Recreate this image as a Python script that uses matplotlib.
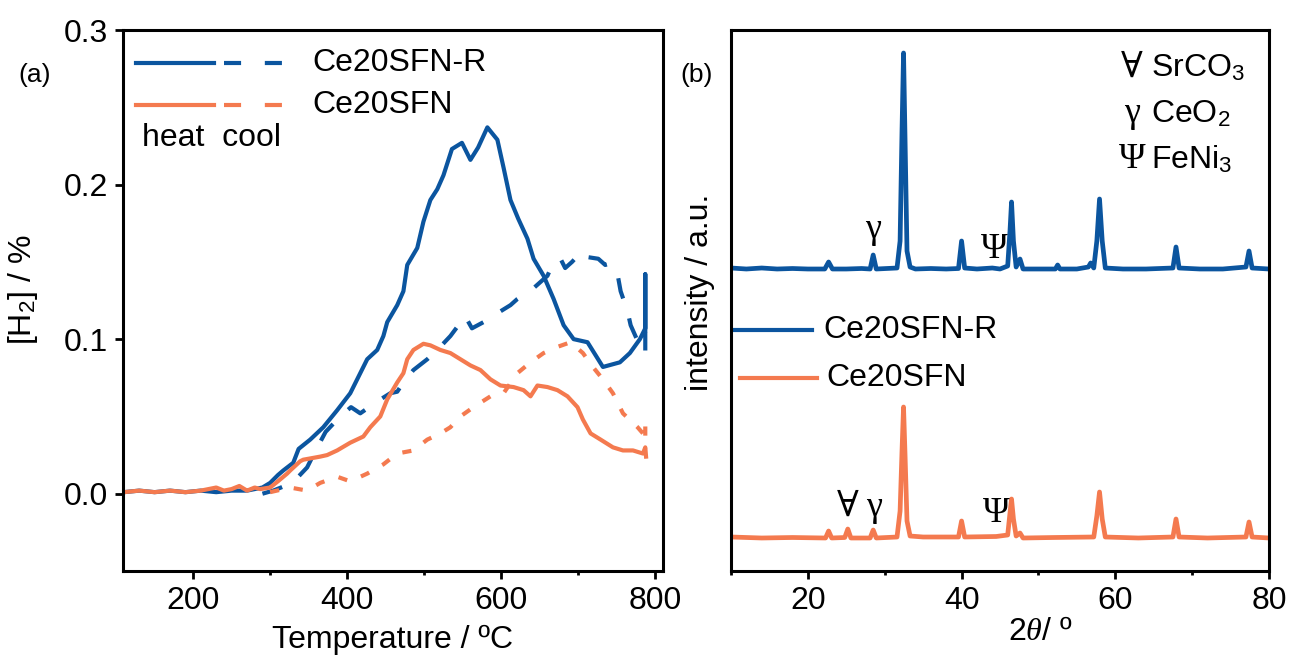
import matplotlib
matplotlib.use("Agg")
import matplotlib.pyplot as plt
from matplotlib.ticker import MultipleLocator, FormatStrFormatter

plt.rcParams['font.family'] = ['Liberation Sans', 'DejaVu Sans']
plt.rcParams['mathtext.fontset'] = 'custom'
plt.rcParams['mathtext.rm'] = 'Liberation Sans'
plt.rcParams['mathtext.it'] = 'Liberation Serif:italic'

BLUE = '#0b559f'
ORANGE = '#f47a4f'

# ---------------- panel (a): H2 during heating / cooling ----------------
r_heat_T = [110, 130, 150, 170, 190, 210, 230, 250, 270, 290, 300, 310, 317, 330, 337, 352, 369, 387,
            404, 413, 426, 439, 447, 452, 465, 473, 478, 491, 499, 508, 517, 525, 536, 549, 560, 570,
            582, 595, 603, 612, 622, 634, 642, 655, 668, 681, 694, 712, 732, 754, 767, 780, 787, 787, 787]
r_heat_H2 = [0.001, 0.002, 0.001, 0.002, 0.001, 0.002, 0.001, 0.002, 0.002, 0.004, 0.007, 0.012, 0.015,
             0.020, 0.029, 0.035, 0.043, 0.054, 0.065, 0.074, 0.087, 0.093, 0.102, 0.111, 0.122, 0.131,
             0.148, 0.159, 0.176, 0.190, 0.197, 0.206, 0.223, 0.227, 0.216, 0.224, 0.237, 0.229, 0.211,
             0.190, 0.178, 0.165, 0.152, 0.141, 0.126, 0.109, 0.100, 0.098, 0.082, 0.085, 0.091, 0.100,
             0.107, 0.142, 0.094]

r_cool_T = [290, 304, 329, 348, 356, 372, 391, 405, 417, 440, 456, 465, 473, 486, 504, 517, 534, 543,
            553, 562, 577, 586, 599, 612, 621, 642, 651, 660, 668, 677, 683, 692, 705, 713, 726, 735,
            742, 751, 755, 764, 768, 776, 781, 787]
r_cool_H2 = [0.000, 0.002, 0.007, 0.017, 0.025, 0.040, 0.050, 0.056, 0.052, 0.060, 0.065, 0.066, 0.072,
             0.080, 0.087, 0.093, 0.102, 0.108, 0.115, 0.107, 0.111, 0.113, 0.118, 0.122, 0.126, 0.133,
             0.137, 0.141, 0.150, 0.152, 0.146, 0.150, 0.157, 0.153, 0.152, 0.148, 0.149, 0.142, 0.131,
             0.118, 0.109, 0.100, 0.096, 0.105]

o_heat_T = [110, 130, 150, 170, 190, 210, 230, 240, 250, 260, 270, 280, 287, 300, 310, 322, 326, 339,
            343, 365, 374, 387, 404, 421, 430, 443, 452, 465, 473, 478, 486, 499, 508, 521, 534, 547,
            560, 573, 586, 599, 616, 629, 638, 647, 660, 673, 686, 699, 706, 716, 729, 745, 758, 771,
            784, 787, 788]
o_heat_H2 = [0.001, 0.002, 0.001, 0.002, 0.001, 0.002, 0.004, 0.002, 0.003, 0.005, 0.002, 0.004, 0.003,
             0.004, 0.008, 0.013, 0.015, 0.021, 0.022, 0.024, 0.025, 0.028, 0.033, 0.037, 0.043, 0.050,
             0.061, 0.072, 0.078, 0.087, 0.093, 0.097, 0.096, 0.093, 0.091, 0.087, 0.083, 0.080, 0.074,
             0.070, 0.069, 0.067, 0.063, 0.070, 0.069, 0.067, 0.063, 0.056, 0.048, 0.039, 0.035, 0.030,
             0.028, 0.028, 0.026, 0.030, 0.024]

o_cool_T = [300, 326, 348, 365, 387, 404, 426, 447, 465, 486, 504, 521, 534, 547, 564, 586, 603, 621,
            638, 655, 673, 690, 706, 719, 732, 745, 758, 777, 784, 787, 787]
o_cool_H2 = [0.001, 0.004, 0.002, 0.007, 0.011, 0.008, 0.013, 0.019, 0.026, 0.028, 0.035, 0.039, 0.043,
             0.050, 0.056, 0.063, 0.065, 0.078, 0.085, 0.091, 0.095, 0.098, 0.091, 0.082, 0.074, 0.065,
             0.052, 0.043, 0.039, 0.046, 0.033]

# ---------------- panel (b): XRD patterns (offset, a.u.) ----------------
xrd_r_2theta = [10, 12, 14, 16, 18, 20, 22.2, 22.7, 23.2, 25, 27, 28.1, 28.5, 28.9, 31.6, 32.0, 32.25,
                32.45, 32.65, 32.9, 33.3, 34, 36, 38, 39.6, 40.0, 40.4, 42, 44, 45, 46.0, 46.3, 46.5,
                46.75, 47.1, 47.6, 48.0, 50, 52.2, 52.5, 52.8, 55, 56.5, 56.8, 57.2, 57.6, 57.95, 58.3,
                58.7, 61, 64, 67.5, 67.9, 68.3, 71, 74, 77.0, 77.4, 77.8, 80]
xrd_r_int = [303, 302, 303, 302, 302.5, 302, 302, 309, 302, 302, 302.5, 302, 316, 302, 303, 330, 440,
             518, 430, 320, 304, 302, 302.5, 302, 302.5, 330, 303, 302, 303, 302, 305, 340, 369, 330,
             304, 312, 302, 302, 302, 306, 302, 302, 304, 308, 303, 330, 372, 330, 303, 302, 302, 303,
             324, 303, 302, 302, 304, 320, 303, 302]

xrd_o_2theta = [10, 14, 18, 22.3, 22.7, 23.1, 24.8, 25.2, 25.6, 28.1, 28.5, 28.9, 31.6, 32.0, 32.25,
                32.45, 32.65, 32.9, 33.3, 35, 39.6, 40.0, 40.4, 44.5, 46.0, 46.3, 46.5, 46.75, 47.1, 47.6,
                48.0, 52, 57.2, 57.6, 57.95, 58.3, 58.7, 63, 67.5, 67.9, 68.3, 72, 77.0, 77.4, 77.8, 80]
xrd_o_int = [34, 33, 33.5, 33, 40, 33, 33.5, 42, 33, 33, 41, 33, 34, 60, 120, 164, 115, 50, 35, 34, 34,
             50, 34, 34.5, 36, 58, 72, 52, 35, 38, 33, 33.5, 34, 55, 79, 52, 34, 33, 34, 52, 34, 33, 34,
             49, 34, 33]

fig = plt.figure(figsize=(12.91, 6.61), dpi=100)
W, H = 1291.0, 661.0
ax1 = fig.add_axes([123 / W, 1 - 571 / H, 540 / W, 541 / H])
ax2 = fig.add_axes([731 / W, 1 - 571 / H, 538 / W, 541 / H])

FS = 23
GS = 26
LW = 3.0

# panel (a)
ax1.plot(r_heat_T, r_heat_H2, color=BLUE, lw=LW, solid_joinstyle='round')
ax1.plot(r_cool_T, r_cool_H2, color=BLUE, lw=LW, dashes=(5.0, 5.0))
ax1.plot(o_heat_T, o_heat_H2, color=ORANGE, lw=LW, solid_joinstyle='round')
ax1.plot(o_cool_T, o_cool_H2, color=ORANGE, lw=LW, dashes=(2.2, 3.6))
ax1.set_xlim(109, 810)
ax1.set_ylim(-0.05, 0.3)
ax1.xaxis.set_major_locator(MultipleLocator(200))
ax1.xaxis.set_minor_locator(MultipleLocator(100))
ax1.yaxis.set_major_locator(MultipleLocator(0.1))
ax1.yaxis.set_major_formatter(FormatStrFormatter('%.1f'))

# panel (a) legend (manual)
for yy, col in [(0.939, BLUE), (0.861, ORANGE)]:
    ax1.plot([0.024, 0.169], [yy, yy], color=col, lw=LW, transform=ax1.transAxes, clip_on=False)
    ax1.plot([0.187, 0.298], [yy, yy], color=col, lw=LW, dashes=(4.1, 5.7),
             transform=ax1.transAxes, clip_on=False)
ax1.text(0.35, 0.939, 'Ce20SFN-R', transform=ax1.transAxes, fontsize=FS, va='center', ha='left')
ax1.text(0.35, 0.861, 'Ce20SFN', transform=ax1.transAxes, fontsize=FS, va='center', ha='left')
ax1.text(0.036, 0.80, 'heat  cool', transform=ax1.transAxes, fontsize=FS, va='center', ha='left')

# panel (b)
ax2.plot(xrd_r_2theta, xrd_r_int, color=BLUE, lw=3.4)
ax2.plot(xrd_o_2theta, xrd_o_int, color=ORANGE, lw=3.4)
ax2.set_xlim(10, 80)
ax2.set_ylim(0, 541)
ax2.xaxis.set_major_locator(MultipleLocator(20))
ax2.xaxis.set_minor_locator(MultipleLocator(10))
ax2.set_yticks([])

ax2.plot([0.007, 0.151], [0.445, 0.445], color=BLUE, lw=LW, transform=ax2.transAxes)
ax2.plot([0.017, 0.160], [0.357, 0.357], color=ORANGE, lw=LW, transform=ax2.transAxes)
ax2.text(0.171, 0.445, 'Ce20SFN-R', transform=ax2.transAxes, fontsize=FS, va='center', ha='left')
ax2.text(0.178, 0.357, 'Ce20SFN', transform=ax2.transAxes, fontsize=FS, va='center', ha='left')

SERIF = ['Liberation Serif', 'DejaVu Serif']
# phase key
key = [('\u2200', 'SrCO$_3$', 0.93), ('\u03b3', 'CeO$_2$', 0.845), ('\u03a8', 'FeNi$_3$', 0.76)]
for sym, name, yy in key:
    ax2.text(0.745, yy, sym, transform=ax2.transAxes, fontsize=GS, family=SERIF, va='center', ha='center')
    ax2.text(0.78, yy, name, transform=ax2.transAxes, fontsize=FS, va='center', ha='left')

# peak markers
ax2.text(28.5, 341, '\u03b3', fontsize=GS, family=SERIF, ha='center', va='center')
ax2.text(44.3, 321, '\u03a8', fontsize=GS, family=SERIF, ha='center', va='center')
ax2.text(25.2, 64, '\u2200', fontsize=GS, family=SERIF, ha='center', va='center')
ax2.text(28.6, 64, '\u03b3', fontsize=GS, family=SERIF, ha='center', va='center')
ax2.text(44.5, 58, '\u03a8', fontsize=GS, family=SERIF, ha='center', va='center')

for ax in (ax1, ax2):
    for s in ax.spines.values():
        s.set_linewidth(2.2)
    ax.tick_params(which='major', direction='out', length=5.5, width=2.0, labelsize=FS, pad=5,
                   top=False, right=False)
    ax.tick_params(which='minor', direction='out', length=3, width=2.0, top=False, right=False)
ax1.tick_params(axis='y', which='minor', left=False)

fig.text(393 / W, 1 - 640 / H, 'Temperature / \u00baC', fontsize=FS, ha='center', va='center')
fig.text(1040 / W, 1 - 632 / H, '2$\\theta$/ \u00ba', fontsize=FS, ha='center', va='center')
fig.text(23 / W, 1 - 290 / H, '[H$_2$] / %', fontsize=FS, rotation=90, ha='center', va='center')
fig.text(700 / W, 1 - 292 / H, 'intensity / a.u.', fontsize=FS, rotation=90, ha='center', va='center')
fig.text(35 / W, 1 - 75 / H, '(a)', fontsize=19, ha='center', va='center')
fig.text(697 / W, 1 - 75 / H, '(b)', fontsize=19, ha='center', va='center')

fig.savefig('out.png', dpi=100)
